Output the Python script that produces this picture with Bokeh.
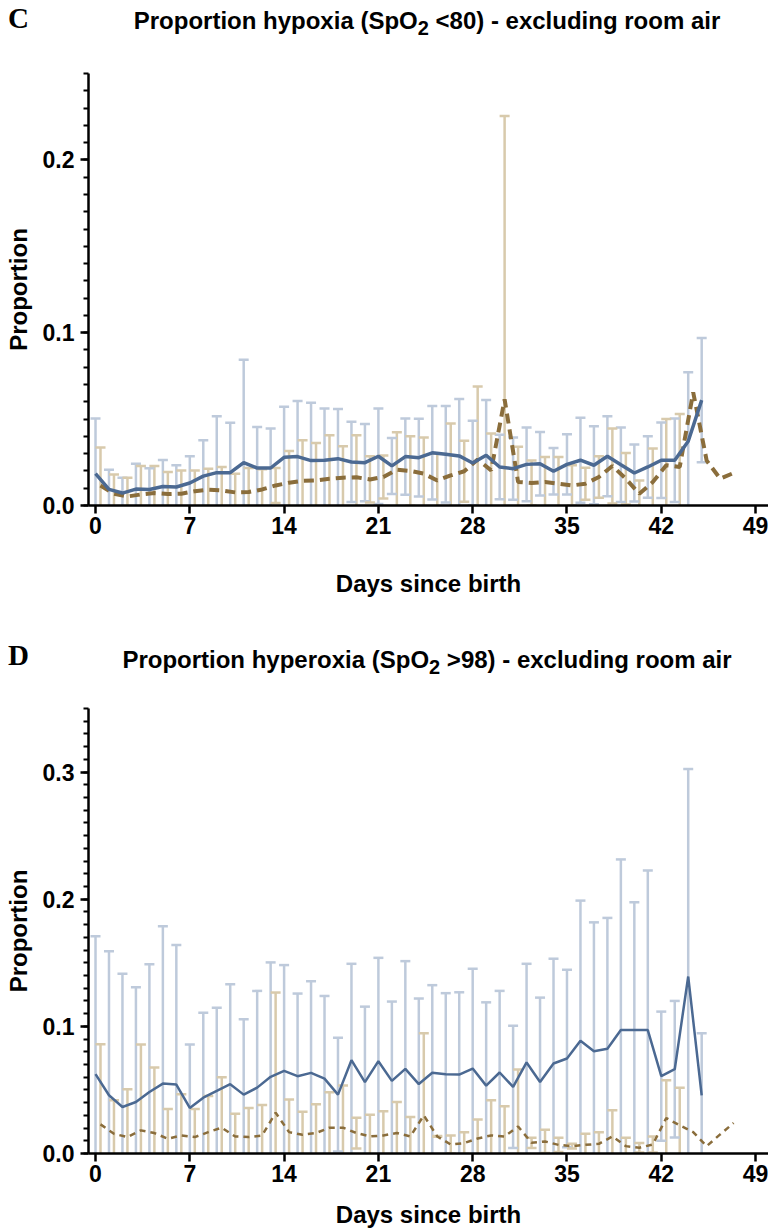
import numpy as np
from bokeh.plotting import figure
from bokeh.models import Range1d, FixedTicker, PrintfTickFormatter, Div
from bokeh.layouts import column
from bokeh.embed import file_html
from bokeh.resources import INLINE

# ---------------- data ----------------
days_blue = list(range(0, 46))
days_tan = list(range(0, 48))

# Panel C: hypoxia (SpO2 < 80)
c_blue_mean = [0.0184, 0.0093, 0.0072, 0.0095, 0.0093, 0.011, 0.0107, 0.013, 0.017, 0.019,
               0.019, 0.0248, 0.0217, 0.0217, 0.0279, 0.0283, 0.026, 0.0262, 0.0271, 0.0252,
               0.0248, 0.0285, 0.0229, 0.0283, 0.0277, 0.0305, 0.0297, 0.0287, 0.0246, 0.0291,
               0.0223, 0.0213, 0.0238, 0.0242, 0.0198, 0.0238, 0.0262, 0.0233, 0.0285, 0.0236,
               0.0188, 0.0223, 0.0262, 0.0262, 0.0372, 0.061]
c_blue_upper = [0.0504, 0.0207, 0.0161, 0.0242, 0.0215, 0.0264, 0.0233, 0.0285, 0.0378, 0.0517,
                0.0479, 0.0843, 0.0455, 0.0446, 0.0572, 0.0605, 0.0595, 0.0562, 0.0558, 0.0484,
                0.0471, 0.0562, 0.0391, 0.0504, 0.0502, 0.0576, 0.0576, 0.0616, 0.049, 0.061,
                0.041, 0.0393, 0.0452, 0.0426, 0.0333, 0.0413, 0.0508, 0.0459, 0.0517, 0.0452,
                0.0353, 0.0401, 0.0481, 0.0504, 0.0771, 0.0969]
c_tan_mean = [0.0116, 0.0068, 0.0052, 0.0064, 0.0072, 0.0066, 0.0068, 0.0083, 0.0091, 0.0087,
              0.0076, 0.0078, 0.0093, 0.0116, 0.0132, 0.0143, 0.0145, 0.0155, 0.0161, 0.0163,
              0.0151, 0.0165, 0.0207, 0.02, 0.0184, 0.0145, 0.0174, 0.0198, 0.0266, 0.0203,
              0.0614, 0.0136, 0.013, 0.0136, 0.0126, 0.0116, 0.0126, 0.0165, 0.0229, 0.0155,
              0.0068, 0.0136, 0.0233, 0.0223, 0.0655, 0.026, 0.0155, 0.0188]
c_tan_upper = [0.0335, 0.018, 0.0161, 0.0229, 0.0229, 0.0194, 0.0203, 0.0203, 0.0213, 0.0223,
               0.0184, 0.0217, 0.021, 0.0217, 0.0316, 0.0378, 0.0362, 0.0407, 0.0343, 0.0407,
               0.0285, 0.0289, 0.0424, 0.0401, 0.0393, 0.03, 0.0475, 0.0374, 0.0688, 0.0417,
               0.2254, 0.034, 0.026, 0.0281, 0.0281, 0.0233, 0.0219, 0.0285, 0.0446, 0.0304,
               0.0145, 0.033, 0.05, 0.0529, None, None, None, None]

# Panel D: hyperoxia (SpO2 > 98)
d_blue_mean = [0.0624, 0.0458, 0.0366, 0.0405, 0.0484, 0.055, 0.0542, 0.0358, 0.0439, 0.0492,
               0.0545, 0.0463, 0.0518, 0.0603, 0.065, 0.0608, 0.0634, 0.0589, 0.0463, 0.0734,
               0.0561, 0.0726, 0.0571, 0.0666, 0.0546, 0.0635, 0.0624, 0.0621, 0.0668, 0.0534,
               0.0637, 0.0524, 0.0716, 0.0563, 0.0708, 0.0747, 0.0887, 0.0805, 0.0824, 0.0971,
               0.0971, 0.0971, 0.0608, 0.0663, 0.1392, 0.0458]
d_blue_upper = [0.1708, 0.159, 0.1413, 0.1308, 0.1489, 0.1787, 0.164, 0.0858, 0.1108, 0.1147,
                0.1332, 0.1055, 0.1279, 0.1503, 0.1482, 0.1258, 0.1355, 0.1239, 0.0911, 0.1492,
                0.1155, 0.1539, 0.1195, 0.1513, 0.1219, 0.1324, 0.1261, 0.1268, 0.1453, 0.1189,
                0.1279, 0.1005, 0.1492, 0.1226, 0.1532, 0.1445, 0.1989, 0.1818, 0.1853, 0.2313,
                0.1976, 0.2226, 0.1116, 0.12, 0.3024, 0.0945]
d_tan_mean = [0.0229, 0.0155, 0.0129, 0.0182, 0.0161, 0.0116, 0.0142, 0.0129, 0.0168, 0.0203,
              0.0134, 0.0129, 0.0142, 0.0321, 0.0168, 0.0147, 0.0161, 0.0203, 0.0203, 0.0161,
              0.0134, 0.0142, 0.0161, 0.0134, 0.03, 0.0134, 0.0071, 0.0082, 0.0118, 0.0142,
              0.0134, 0.0213, 0.0084, 0.0095, 0.0068, 0.0058, 0.0068, 0.0076, 0.0134, 0.0058,
              0.0045, 0.0071, 0.0279, 0.0221, 0.0168, 0.0058, 0.015, 0.024]
d_tan_upper = [0.086, 0.0418, 0.0505, 0.0858, 0.0676, 0.035, 0.0466, 0.035, 0.0453, 0.06,
               0.0313, 0.0358, 0.0382, 0.1266, 0.0424, 0.0329, 0.0387, 0.0482, 0.0534, 0.0282,
               0.0305, 0.0332, 0.0405, 0.0288, 0.0945, 0.0137, 0.0142, 0.0168, 0.0268, 0.0418,
               0.0371, 0.066, 0.0124, 0.0187, 0.0124, 0.0076, 0.0155, 0.0168, 0.034, 0.0124,
               0.0082, 0.0134, 0.0576, 0.0518, None, None, None, None]

x_ticks = [0, 7, 14, 21, 28, 35, 42, 49]
title_c = "Proportion hypoxia (SpO<sub>2</sub> &lt;80) - excluding room air"
title_d = "Proportion hyperoxia (SpO<sub>2</sub> &gt;98) - excluding room air"

# ---------------- style ----------------
BLUE_LINE = "#4B6992"
BLUE_BAR = "#BECADB"
TAN_LINE = "#8A6D3B"
TAN_BAR = "#D8CAAC"
FONT = "Liberation Sans"
TAN_OFFSET = 0.37
X0, X1 = -0.521, 49.96
W = 768


def arr(v):
    return np.array([np.nan if a is None else a for a in v], dtype=float)


def header(letter, title, height, letter_top, title_top):
    html = (
        f'<div style="position:relative;width:{W}px;height:{height}px;">'
        f'<span style="position:absolute;left:8px;top:{letter_top}px;line-height:29px;'
        f'font-family:\'Liberation Serif\';font-weight:bold;font-size:29px;color:black;">{letter}</span>'
        f'<span style="position:absolute;left:108px;width:638px;top:{title_top}px;line-height:24px;'
        f'text-align:center;white-space:nowrap;font-family:\'{FONT}\';font-weight:bold;'
        f'font-size:24px;color:black;">{title}</span>'
        '</div>'
    )
    return Div(text=html, width=W, height=height, margin=(0, 0, 0, 0))


def panel(ymax, yticks, height, top, bottom,
          b_mean, b_up, t_mean, t_up, lw_blue, lw_tan, lw_bar, dash, xlab_standoff):
    p = figure(width=W, height=height, x_range=Range1d(X0, X1), y_range=Range1d(0, ymax),
               output_backend="svg", toolbar_location=None,
               min_border_left=88, min_border_right=0, min_border_top=top,
               min_border_bottom=bottom)
    p.outline_line_color = None
    p.xgrid.visible = False
    p.ygrid.visible = False

    xb = np.array(days_blue, dtype=float)
    xt = np.array(days_tan, dtype=float) + TAN_OFFSET
    bm, bu = arr(b_mean), arr(b_up)
    tm, tu = arr(t_mean), arr(t_up)
    bl = 2 * bm - bu
    tl = 2 * tm - tu

    # error bars (mean +/- SD)
    p.segment(xb, bl, xb, bu, line_color=BLUE_BAR, line_width=lw_bar)
    p.segment(xt, tl, xt, tu, line_color=TAN_BAR, line_width=lw_bar)
    for xx, yy, col in ((xb, bu, BLUE_BAR), (xb, bl, BLUE_BAR), (xt, tu, TAN_BAR), (xt, tl, TAN_BAR)):
        p.scatter(xx, yy, marker="dash", size=10, line_color=col, line_width=lw_bar)

    p.line(xt, tm, line_color=TAN_LINE, line_width=lw_tan, line_dash=dash)
    p.line(xb, bm, line_color=BLUE_LINE, line_width=lw_blue)

    # axes
    for ax in (p.xaxis[0], p.yaxis[0]):
        ax.axis_line_width = 2.5
        ax.axis_line_color = "black"
        ax.major_tick_line_width = 2.5
        ax.minor_tick_line_width = 2
        ax.major_tick_out = 8
        ax.major_tick_in = 0
        ax.minor_tick_in = 0
        ax.major_label_text_font = FONT
        ax.major_label_text_font_style = "bold"
        ax.major_label_text_font_size = "23px"
        ax.major_label_text_color = "black"
        ax.axis_label_text_font = FONT
        ax.axis_label_text_font_style = "bold"
        ax.axis_label_text_font_size = "24px"
        ax.axis_label_text_color = "black"
    p.xaxis.ticker = FixedTicker(ticks=x_ticks, minor_ticks=[])
    p.xaxis.major_label_standoff = 3
    p.xaxis.axis_label = "Days since birth"
    p.xaxis.axis_label_standoff = xlab_standoff
    p.yaxis.ticker = FixedTicker(ticks=yticks,
                                 minor_ticks=list(np.round(np.arange(0, ymax + 0.001, 0.01), 3)))
    p.yaxis.minor_tick_out = 5
    p.yaxis.formatter = PrintfTickFormatter(format="%.1f")
    p.yaxis.major_label_standoff = 6
    p.yaxis.axis_label = "Proportion"
    p.yaxis.axis_label_standoff = 8
    return p


hC = header("C", title_c, 40, 4, 9)
pC = panel(0.25, [0, 0.1, 0.2], 580, 33, 115,
           c_blue_mean, c_blue_upper, c_tan_mean, c_tan_upper, 3.5, 4, 2.5, "10 6", 33)
hD = header("D", title_d, 60, 21, 28)
pD = panel(0.35, [0, 0.1, 0.2, 0.3], 550, 28, 77,
           d_blue_mean, d_blue_upper, d_tan_mean, d_tan_upper, 2.5, 2.5, 2.5, "6 5", 16)

layout = column(hC, pC, hD, pD, spacing=0)
open("out.html", "w").write(file_html(layout, INLINE))
